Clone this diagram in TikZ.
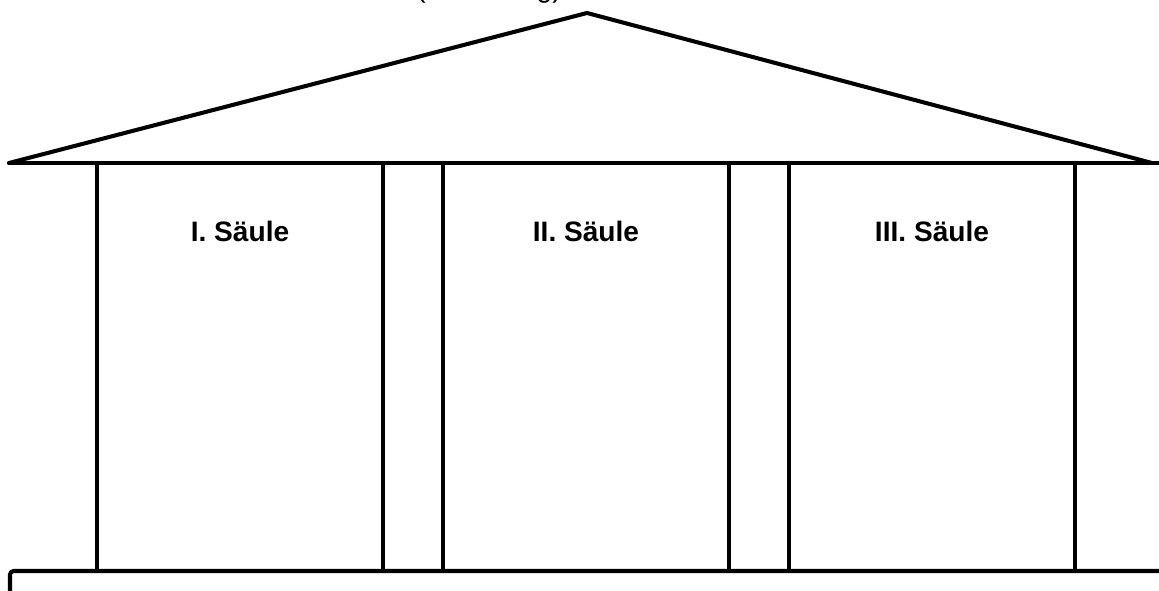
\documentclass[tikz,border=0pt]{standalone}
\usepackage{fontspec}
\setmainfont{Liberation Sans}
\usepackage{tikz}
\usetikzlibrary{positioning}

\begin{document}
\begin{tikzpicture}[
  x=0.02cm, y=-0.02cm,
  font=\fontsize{16}{19}\selectfont,
  wall/.style={draw=black, line width=2.3pt, line join=round, line cap=round},
  pillar/.style={draw=black, line width=2.3pt},
  label/.style={font=\fontsize{16}{19}\selectfont\bfseries, inner sep=0pt},
]
\useasboundingbox (0,0) rectangle (1159,591);

% roof and beam
\draw[wall] (9,163) -- (587,13) -- (1152,163);
\draw[wall] (9,163) -- (1170,163);
\node[anchor=base east, inner sep=0pt] (title) at (562,-2) {(Sicherung)};

% pillars
\foreach \xa in {97,383,443,729,789,1075}
  \draw[pillar] (\xa,163) -- (\xa,571);

% base
\draw[wall, rounded corners=2pt] (10,600) -- (10,571) -- (1170,571);

\node[label] (saeuleI)   at (240,231) {I. Säule};
\node[label] (saeuleII)  at (586,231) {II. Säule};
\node[label] (saeuleIII) at (932,231) {III. Säule};

\end{tikzpicture}
\end{document}
